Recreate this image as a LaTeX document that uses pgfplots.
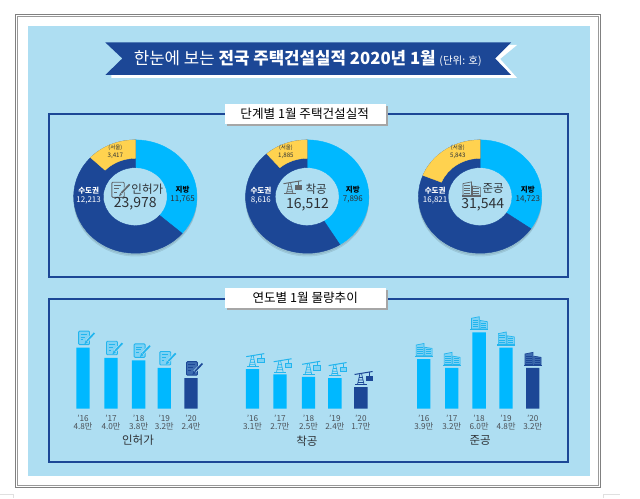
\documentclass[border=0pt]{standalone}
\usepackage{fontspec}
\usepackage{pgfplots}
\pgfplotsset{compat=1.18}
\setmainfont{Noto Sans CJK KR}

\definecolor{panel}{HTML}{AEDEF2}
\definecolor{navy}{HTML}{1C4796}
\definecolor{sky}{HTML}{00B8FF}
\definecolor{sun}{HTML}{FFD24F}
\definecolor{ink}{HTML}{2E3236}
\definecolor{tickink}{HTML}{4A4F55}
\definecolor{iconline}{HTML}{22B5EE}
\definecolor{iconfill}{HTML}{7FD2F4}
\definecolor{icongrey}{HTML}{62676B}
\definecolor{darkfill}{HTML}{3D6CB0}

% icons, origin at the top centre of a bar, y up
\newcommand\docicon[2]{%
  \draw[draw=#1,fill=#2,line width=.9pt,rounded corners=1pt] (-4.5,3) rectangle (6.5,16.5);
  \draw[draw=#1,line width=.7pt] (-2.5,13.4)--(3.6,13.4) (-2.5,10.6)--(2.2,10.6) (-2.5,7.8)--(0,7.8);
  \draw[draw=panel,line width=3pt] (3.6,6.4)--(10.8,14);
  \draw[draw=#1,line width=1.7pt] (4,6.8)--(11.4,14.6);
  \fill[#1] (1.8,3.8)--(4.4,5.4)--(2.9,7)--cycle;
}
\newcommand\craneicon[2]{%
  \draw[draw=#1,line width=.7pt] (-3.4,2.6)--(-.9,13.5) (3.2,2.6)--(.7,13.5) (-2.9,4.6)--(2.7,4.6) (-2.4,7)--(2.1,7) (-1.8,9.6)--(1.5,9.6);
  \draw[draw=#1,line width=1pt] (-5.7,2.3)--(6,2.3);
  \draw[draw=#1,line width=1pt] (-6.3,12.6)--(11.7,15.6);
  \draw[draw=#1,line width=.6pt] (8.4,15)--(8.4,11);
  \fill[#1] (5,6.7) rectangle (11.7,11.3);
  \fill[#2] (6,7.7) rectangle (10.7,10.3);
}
\newcommand\bldgicon[2]{%
  \draw[draw=#1,line width=1.3pt] (-8.7,2.7)--(9,2.7);
  \filldraw[draw=#1,fill=#2,line width=.7pt] (-7.7,3.4)--(-7.7,14)--(.2,15.6)--(.2,3.4)--cycle;
  \filldraw[draw=#1,fill=#2,line width=.7pt] (1,3.4)--(1,11.8)--(8.3,10.6)--(8.3,3.4)--cycle;
  \draw[draw=#1,line width=.4pt] (-6.6,5.6)--(-.8,5.6) (-6.6,7.8)--(-.8,7.8) (-6.6,10)--(-.8,10) (-6.6,12.2)--(-.8,12.2)
    (2,5.4)--(7.3,5.4) (2,7.4)--(7.3,7.4) (2,9.4)--(7.3,9.4);
}
\tikzset{px/.style={x=1pt,y=1pt}}
\pgfdeclareplotmark{docL}{\begin{scope}[px]\docicon{iconline}{iconfill}\end{scope}}
\pgfdeclareplotmark{docD}{\begin{scope}[px]\docicon{navy}{darkfill}\end{scope}}
\pgfdeclareplotmark{craneL}{\begin{scope}[px]\craneicon{iconline}{iconfill}\end{scope}}
\pgfdeclareplotmark{craneD}{\begin{scope}[px]\craneicon{navy}{navy}\end{scope}}
\pgfdeclareplotmark{bldgL}{\begin{scope}[px]\bldgicon{iconline}{iconfill}\end{scope}}
\pgfdeclareplotmark{bldgD}{\begin{scope}[px]\bldgicon{navy}{darkfill}\end{scope}}

% one ring piece per data row; the reference ring is stretched sideways by 1.088
\pgfplotsset{
  wedge/.style={
    scatter, only marks, mark=*, mark size=0pt, scatter src=x,
    scatter/use mapped color={draw=none,fill=none},
    visualization depends on={value \thisrow{a0} \as \wa},
    visualization depends on={value \thisrow{a1} \as \wb},
    visualization depends on={value \thisrow{rx} \as \wrx},
    visualization depends on={value \thisrow{ry} \as \wry},
    scatter/@pre marker code/.code={%
      \fill[#1] (\wa:61.7pt and 56.7pt)
        arc[start angle=\wa,end angle=\wb,x radius=61.7pt,y radius=56.7pt]
        -- (\wb:\wrx pt and \wry pt)
        arc[start angle=\wb,end angle=\wa,x radius=\wrx pt,y radius=\wry pt] -- cycle;
    },
    scatter/@post marker code/.code={},
  },
  pagebox/.style={
    at={(0pt,0pt)}, anchor=south west,
    width=640pt, height=498pt, scale only axis,
    xmin=0, xmax=640, ymin=0, ymax=498, y dir=reverse,
    hide axis, clip=false,
  },
}
\newcommand\lab[5]{\node[inner sep=0pt,text=#4,font=\fontsize{#3}{#3}\selectfont,align=center] at (axis cs:#1,#2) {#5};}

\begin{document}
\begin{tikzpicture}
\begin{axis}[pagebox]
\fill[white] (axis cs:0,0) rectangle (axis cs:640,498);
\draw[gray,line width=.9pt] (axis cs:15,14.5) rectangle (axis cs:600.5,488);
\draw[gray!80,line width=.8pt] (axis cs:17,16.5) rectangle (axis cs:598.5,486);
\draw[black!12,line width=.8pt] (axis cs:0,494.5)--(axis cs:13,494.5)--(axis cs:13,498) (axis cs:603,498)--(axis cs:603,494.5)--(axis cs:620,494.5);
\fill[panel] (axis cs:27.5,26) rectangle (axis cs:589.8,476.7);

% banner
\fill[white] (axis cs:300,45)--(axis cs:517,45)--(axis cs:500,59)--(axis cs:517,78)--(axis cs:111,78)--(axis cs:111,74)--(axis cs:300,74)--cycle;
\fill[navy] (axis cs:105,42.5)--(axis cs:511,42.5)--(axis cs:495,58.5)--(axis cs:511,75)--(axis cs:105,75)--(axis cs:122,58.5)--cycle;
\node[inner sep=0pt,text=white] at (axis cs:307.5,58.5)
  {\fontsize{16.8}{16.8}\selectfont 한눈에 보는 \textbf{전국 주택건설실적 2020년 1월} \fontsize{10.5}{10.5}\selectfont (단위: 호)};

% section frames
\draw[navy,line width=1.8pt] (axis cs:48.3,114)rectangle(axis cs:567.7,277.3);
\draw[navy,line width=1.8pt] (axis cs:48.3,299)rectangle(axis cs:567.7,462.3);
\fill[black!35] (axis cs:227,106)rectangle(axis cs:387.5,126);
\fill[white] (axis cs:225,104)rectangle(axis cs:385.5,124);
\lab{304.5}{114}{12.6}{black}{단계별 1월 주택건설실적}
\fill[black!35] (axis cs:227,290.3)rectangle(axis cs:387.5,310.3);
\fill[white] (axis cs:225,288.3)rectangle(axis cs:385.5,308.3);
\lab{305}{298.3}{12.6}{black}{연도별 1월 물량추이}

% donuts: angles in degrees, clockwise from 12 o'clock
\addplot[wedge={black,opacity=.07}] table {
x y a0 a1 rx ry
135 199.7 90 450 50 46
307 199.7 90 450 50 46
480 199.7 90 450 50 46
};
\addplot[wedge={black,opacity=.07}] table {
x y a0 a1 rx ry
135 198.4 90 450 50 46
307 198.4 90 450 50 46
480 198.4 90 450 50 46
};
\addplot[wedge=sky] table {
x y a0 a1 rx ry
135 196.7 90 -40.5 32 29
307 196.7 90 -58 32 29
480 196.7 90 -34.5 32 29
};
\addplot[wedge=navy] table {
x y a0 a1 rx ry
135 196.7 -40.5 -270 32 29
307 196.7 -58 -270 32 29
480 196.7 -34.5 -270 32 29
};
\addplot[wedge=sun] table {
x y a0 a1 rx ry
135 196.7 136.5 90 41.7 38.3
307 196.7 131 90 41.7 38.3
480 196.7 158 90 41.7 38.3
};
\end{axis}

% everything that sits on top of the rings
\begin{axis}[pagebox]
\lab{88.3}{190.7}{7.5}{white}{\textbf{수도권}}
\lab{88.3}{200}{8}{white}{12,213}
\lab{182.3}{190}{7.5}{black}{\textbf{지방}}
\lab{182.3}{199.3}{8}{ink}{11,765}
\lab{115}{148.3}{5.5}{ink}{(서울)}
\lab{115}{155.5}{6.2}{ink}{3,417}
\lab{260.7}{190.7}{7.5}{white}{\textbf{수도권}}
\lab{260.7}{200}{8}{white}{8,616}
\lab{352.7}{190}{7.5}{black}{\textbf{지방}}
\lab{352.7}{199.3}{8}{ink}{7,896}
\lab{285.7}{148.3}{5.5}{ink}{(서울)}
\lab{285.7}{155.7}{6.2}{ink}{1,885}
\lab{435}{190.7}{7.5}{white}{\textbf{수도권}}
\lab{435}{200}{8}{white}{16,821}
\lab{527.7}{190}{7.5}{black}{\textbf{지방}}
\lab{527.7}{199.3}{8}{ink}{14,723}
\lab{457.7}{148.3}{5.5}{ink}{(서울)}
\lab{457.7}{155.7}{6.2}{ink}{5,843}

\begin{scope}[shift={(axis cs:116.6,200.8)},x=1.12pt,y=1.12pt]\docicon{icongrey}{panel}\end{scope}
\lab{147}{189}{11.5}{ink}{인허가}
\lab{135}{203.5}{14}{ink}{23,978}
\begin{scope}[shift={(axis cs:289.6,196.4)},x=1pt,y=1pt]\craneicon{icongrey}{icongrey}\end{scope}
\lab{316}{189}{11.5}{ink}{착공}
\lab{307.3}{204.5}{14}{ink}{16,512}
\begin{scope}[shift={(axis cs:471.2,199)},x=1.09pt,y=1.09pt]\bldgicon{icongrey}{panel}\end{scope}
\lab{493}{189}{11.5}{ink}{준공}
\lab{482.7}{204.5}{14}{ink}{31,544}

\lab{137.7}{440}{11.5}{ink}{인허가}
\lab{306.7}{441}{11.5}{ink}{착공}
\lab{480}{441}{11.5}{ink}{준공}
\end{axis}

% yearly bars, in units of 10,000 homes; x is the pixel column
\begin{axis}[
  at={(0pt,89pt)}, anchor=south west,
  width=640pt, height=82.875pt, scale only axis,
  xmin=0, xmax=640, ymin=0, ymax=6.5, clip=false,
  axis line style={draw=none}, ymajorticks=false, major tick length=0pt,
  ybar=0pt, bar width=13.3pt, bar shift=0pt,
  xtick={82.7,110.7,138.3,164,190.7,252.3,279.7,308.3,334.7,360.7,423.7,451.7,479,506,532.7},
  xticklabels={
    '16\\4.8만,'17\\4.0만,'18\\3.8만,'19\\3.2만,'20\\2.4만,
    '16\\3.1만,'17\\2.7만,'18\\2.5만,'19\\2.4만,'20\\1.7만,
    '16\\3.9만,'17\\3.2만,'18\\6.0만,'19\\4.8만,'20\\3.2만},
  xticklabel style={align=center,text=tickink,font=\fontsize{8.2}{8.8}\selectfont,yshift=-2.5pt},
]
\addplot[ybar,fill=sky,draw=none] coordinates {
  (82.7,4.8) (110.7,4.0) (138.3,3.8) (164,3.2)
  (252.3,3.1) (279.7,2.7) (308.3,2.5) (334.7,2.4)
  (423.7,3.9) (451.7,3.2) (479,6.0) (506,4.8)};
\addplot[ybar,fill=navy,draw=none] coordinates {(190.7,2.4) (360.7,1.7) (532.7,3.2)};
\addplot[only marks,mark=docL] coordinates {(82.7,4.8) (110.7,4.0) (138.3,3.8) (164,3.2)};
\addplot[only marks,mark=docD] coordinates {(190.7,2.4)};
\addplot[only marks,mark=craneL] coordinates {(252.3,3.1) (279.7,2.7) (308.3,2.5) (334.7,2.4)};
\addplot[only marks,mark=craneD] coordinates {(360.7,1.7)};
\addplot[only marks,mark=bldgL] coordinates {(423.7,3.9) (451.7,3.2) (479,6.0) (506,4.8)};
\addplot[only marks,mark=bldgD] coordinates {(532.7,3.2)};
\end{axis}
\end{tikzpicture}
\end{document}
